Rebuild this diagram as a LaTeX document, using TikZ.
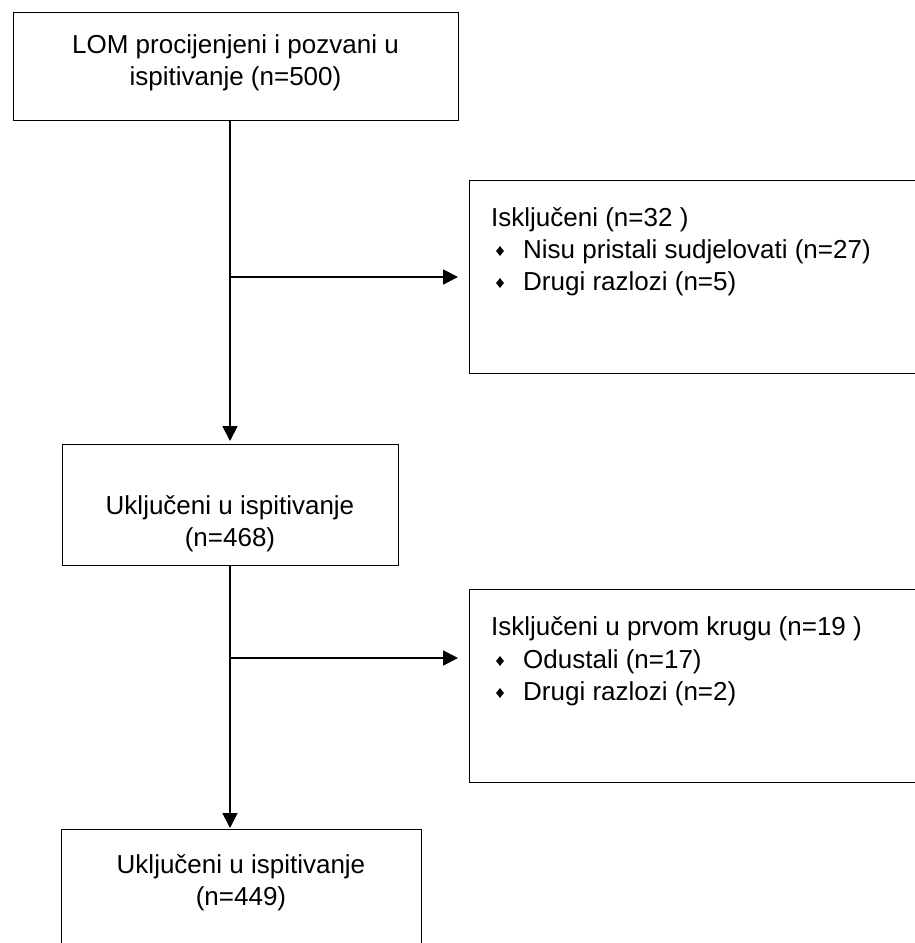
\documentclass[tikz,border=0pt]{standalone}
\usepackage{fontspec}
\setmainfont{Liberation Sans}
\usetikzlibrary{arrows.meta,shapes.geometric}
\begin{document}
\begin{tikzpicture}[x=1pt,y=-1pt,
  box/.style={draw, line width=1.2pt, rectangle, inner sep=0pt, anchor=north west},
  txt/.style={font=\fontsize{26}{32}\selectfont, inner sep=0pt, anchor=base},
  ltxt/.style={txt, anchor=base west},
  bul/.style={diamond, fill=black, inner sep=0pt, minimum width=8pt, minimum height=10pt},
  conn/.style={line width=1.8pt},
  arr/.style={conn, -{Triangle[length=15pt,width=15pt]}}]
\useasboundingbox (0,0) rectangle (915,943);
% boxes
\node[box, minimum width=445pt, minimum height=108pt] (b1) at (13,12) {};
\node[box, minimum width=460pt, minimum height=193pt] (r1) at (469,180) {};
\node[box, minimum width=336pt, minimum height=121pt] (b2) at (62,444) {};
\node[box, minimum width=460pt, minimum height=193pt] (r2) at (469,589) {};
\node[box, minimum width=360pt, minimum height=140pt] (b3) at (61,829) {};
% texts
\node[txt] (t1a) at (235.5,53) {LOM procijenjeni i pozvani u};
\node[txt] (t1b) at (235.5,85) {ispitivanje (n=500)};
\node[ltxt] (r1a) at (491,226) {Isključeni (n=32 )};
\node[ltxt] (r1b) at (523,258) {Nisu pristali sudjelovati (n=27)};
\node[ltxt] (r1c) at (523,290) {Drugi razlozi (n=5)};
\node[bul] (r1bb) at (500,251) {};
\node[bul] (r1cb) at (500,283) {};
\node[txt] (t2a) at (230,514) {Uključeni u ispitivanje};
\node[txt] (t2b) at (230,546) {(n=468)};
\node[ltxt] (r2a) at (491,635) {Isključeni u prvom krugu (n=19 )};
\node[ltxt] (r2b) at (523,668) {Odustali (n=17)};
\node[ltxt] (r2c) at (523,700) {Drugi razlozi (n=2)};
\node[bul] (r2bb) at (500,661) {};
\node[bul] (r2cb) at (500,693) {};
\node[txt] (t3a) at (241,873) {Uključeni u ispitivanje};
\node[txt] (t3b) at (241,905) {(n=449)};
% connectors
\coordinate (j1) at (230,277);
\coordinate (j2) at (230,658);
\draw[arr, shorten >=3pt] (b1.south -| j1) -- (b2.north -| j1);
\draw[arr, shorten >=11pt] (j1) -- (r1.west |- j1);
\draw[arr, shorten >=1pt] (b2.south -| j2) -- (b3.north -| j2);
\draw[arr, shorten >=11pt] (j2) -- (r2.west |- j2);
\end{tikzpicture}
\end{document}
